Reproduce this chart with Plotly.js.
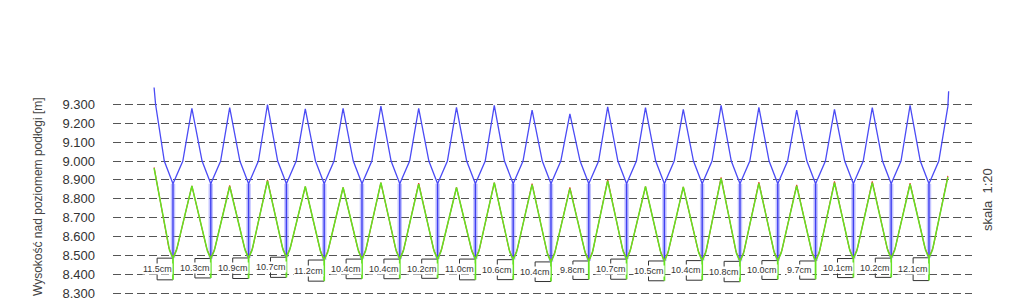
<!DOCTYPE html>
<html>
<head>
<meta charset="utf-8">
<script src="https://cdn.plot.ly/plotly-3.0.1.min.js"></script>
<style>html,body{margin:0;padding:0;background:#fff;}#chart{width:1024px;height:300px;}</style>
</head>
<body>
<div id="chart"></div>
<script>
// ---- data ----
// drop (cm) measured at each of the 21 valleys
const dropCm = [11.5, 10.3, 10.9, 10.7, 11.2, 10.4, 10.4, 10.2, 11.0, 10.6, 10.4, 9.8, 10.7, 10.5, 10.4, 10.8, 10.0, 9.7, 10.1, 10.2, 12.1];
// lower (green) valley heights [m]
const valleyH = [8.485, 8.483, 8.486, 8.490, 8.475, 8.480, 8.480, 8.480, 8.480, 8.477, 8.465, 8.470, 8.480, 8.470, 8.472, 8.468, 8.472, 8.470, 8.483, 8.485, 8.487];
// upper (blue) junction heights at each valley [m]
const blueJunctionH = [8.88, 8.88, 8.88, 8.88, 8.88, 8.88, 8.88, 8.88, 8.88, 8.88, 8.88, 8.88, 8.88, 8.88, 8.88, 8.88, 8.88, 8.88, 8.88, 8.88, 8.88];
// blue peaks between valleys
const bluePeakH = [9.279, 9.283, 9.300, 9.277, 9.279, 9.291, 9.280, 9.285, 9.295, 9.270, 9.250, 9.288, 9.283, 9.274, 9.295, 9.285, 9.270, 9.274, 9.283, 9.295];
const blueKneeH = 9.00;
const blueStartH = [9.39, 9.30];
const blueEndH = [9.29, 9.37];
// green peaks between valleys
const greenPeakH = [8.868, 8.865, 8.895, 8.865, 8.860, 8.886, 8.877, 8.860, 8.886, 8.875, 8.854, 8.895, 8.865, 8.863, 8.908, 8.882, 8.868, 8.886, 8.886, 8.877];
const greenStartH = 8.963;
const greenEndH = 8.915;
// red peaks (mostly hidden below green)
const redPeakH = [8.868, 8.871, 8.900, 8.865, 8.860, 8.886, 8.883, 8.860, 8.886, 8.881, 8.860, 8.901, 8.865, 8.863, 8.914, 8.888, 8.874, 8.892, 8.892, 8.883];
const yTicks = [8.3, 8.4, 8.5, 8.6, 8.7, 8.8, 8.9, 9.0, 9.1, 9.2, 9.3];

// ---- build geometry from the data ----
const n = valleyH.length;
// blue curve
const bx = [-0.5, -0.46, -0.23, 0], by = [blueStartH[0], blueStartH[1], blueKneeH, blueJunctionH[0]];
for (let k = 0; k < n - 1; k++) {
  bx.push(k + 0.26, k + 0.5, k + 0.77, k + 1);
  by.push(blueKneeH, bluePeakH[k], blueKneeH, blueJunctionH[k + 1]);
}
bx.push(n - 1 + 0.26, n - 1 + 0.5, n - 1 + 0.52);
by.push(blueKneeH, blueEndH[0], blueEndH[1]);

function arcLine(peaks, startH, endH, kneeDx, kneeDy) {
  const x = [-0.5, -kneeDx, 0], y = [startH, valleyH[0] + kneeDy, valleyH[0]];
  for (let k = 0; k < n - 1; k++) {
    x.push(k + kneeDx, k + 0.5, k + 1 - kneeDx, k + 1);
    y.push(valleyH[k] + kneeDy, peaks[k], valleyH[k + 1] + kneeDy, valleyH[k + 1]);
  }
  x.push(n - 1 + kneeDx, n - 1 + 0.5);
  y.push(valleyH[n - 1] + kneeDy, endH);
  return {x, y};
}
const green = arcLine(greenPeakH, greenStartH, greenEndH, 0.09, 0.04);
const red = arcLine(redPeakH, greenStartH + 0.004, greenEndH + 0.006, 0.11, 0.055);

const bsx = [], bsy = [], gsx = [], gsy = [], brx = [], bry = [];
const ann = [];
for (let k = 0; k < n; k++) {
  const v = valleyH[k], b = v - dropCm[k] / 100;
  bsx.push(k, k, null); bsy.push(blueJunctionH[k], v, null);
  gsx.push(k, k, null); gsy.push(v, b, null);
  brx.push(k, k - 0.42, k - 0.42, k, null); bry.push(v, v, b, b, null);
  ann.push({x: k - 0.42, y: (v + b) / 2, xref: 'x', yref: 'y', text: dropCm[k].toFixed(1) + 'cm',
    showarrow: false, bgcolor: '#ffffff', borderpad: 0,
    font: {family: 'Liberation Sans, Arial, sans-serif', size: 9, color: '#333'}});
}

const traces = [
  {x: brx, y: bry, mode: 'lines', line: {color: '#333', width: 1}, hoverinfo: 'skip'},
  {x: bsx, y: bsy, mode: 'lines', line: {color: 'rgba(125,125,255,0.45)', width: 4.5}, hoverinfo: 'skip'},
  {x: bsx, y: bsy, mode: 'lines', line: {color: 'rgb(65,65,240)', width: 1.4}, hoverinfo: 'skip'},
  {x: red.x, y: red.y, mode: 'lines', line: {color: 'rgb(235,55,35)', width: 1.1}, hoverinfo: 'skip'},
  {x: green.x, y: green.y, mode: 'lines', line: {color: 'rgb(100,225,35)', width: 1.5}, hoverinfo: 'skip'},
  {x: gsx, y: gsy, mode: 'lines', line: {color: 'rgb(100,225,35)', width: 1.8}, hoverinfo: 'skip'},
  {x: bx, y: by, mode: 'lines', line: {color: 'rgb(75,75,245)', width: 1.3}, hoverinfo: 'skip'}
];

ann.push({xref: 'paper', yref: 'paper', x: -0.0873, y: 0.468, xanchor: 'center', yanchor: 'middle',
  text: 'Wysokość nad poziomem podłogi [m]', textangle: -90, showarrow: false,
  font: {family: 'Liberation Sans, Arial, sans-serif', size: 12, color: '#444'}});
ann.push({xref: 'paper', yref: 'paper', x: 1.0175, y: 0.4545, xanchor: 'center', yanchor: 'middle',
  text: 'skala  1:20', textangle: -90, showarrow: false,
  font: {family: 'Liberation Sans, Arial, sans-serif', size: 13, color: '#444'}});

const layout = {
  width: 1024, height: 300,
  margin: {l: 113, r: 52, t: 80, b: 0},
  paper_bgcolor: '#fff', plot_bgcolor: '#fff',
  showlegend: false,
  xaxis: {visible: false, range: [-1.587, 21.138], fixedrange: true},
  yaxis: {range: [8.263, 9.43], tickvals: yTicks, tickformat: '.3f',
    showgrid: true, gridcolor: '#555', gridwidth: 1, griddash: '8px,4px',
    zeroline: false, showline: false, ticks: '', ticklabelstandoff: 17, ticklabeloverflow: 'allow',
    tickfont: {family: 'Liberation Sans, Arial, sans-serif', size: 13, color: '#333'}, fixedrange: true},
  annotations: ann
};
Plotly.newPlot('chart', traces, layout, {staticPlot: true, displayModeBar: false});
</script>
</body>
</html>
